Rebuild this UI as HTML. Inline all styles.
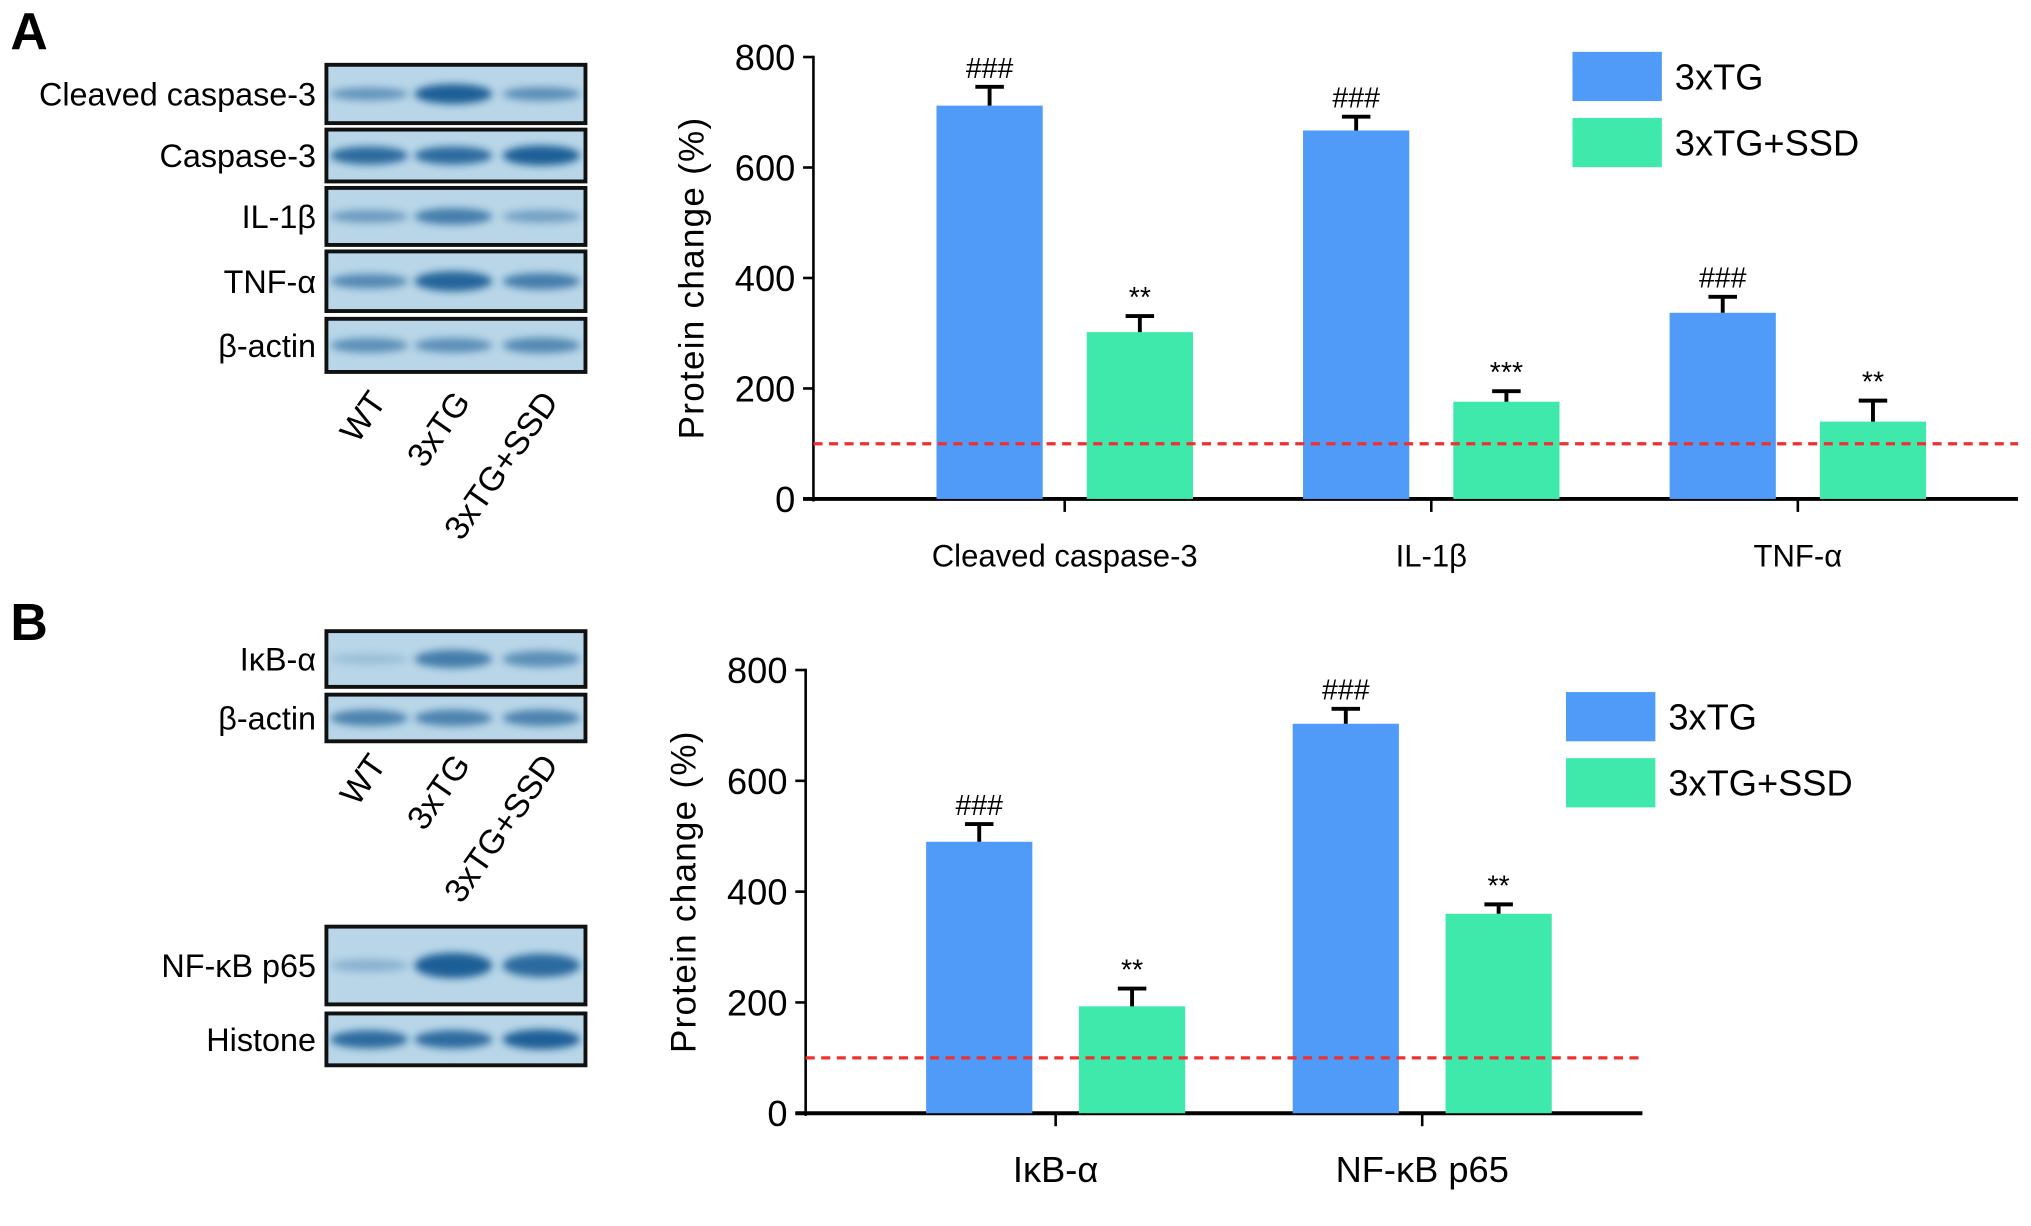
<!DOCTYPE html>
<html><head><meta charset="utf-8"><style>
html,body{margin:0;padding:0;background:#fff;}
svg{display:block;font-family:"Liberation Sans",Arial,sans-serif;}
</style></head><body>
<svg id="fig" width="2031" height="1226" viewBox="0 0 1568 946" preserveAspectRatio="none" xmlns="http://www.w3.org/2000/svg">
<defs><filter id="bl" x="-50%" y="-100%" width="200%" height="300%"><feGaussianBlur stdDeviation="3"/></filter></defs>
<text x="8" y="38" font-size="40" font-weight="bold">A</text>
<text x="8" y="494" font-size="40" font-weight="bold">B</text>
<g id="blots"></g>
<g id="chartA"></g>
<g id="chartB"></g>
</svg>
<script>
// Chart A data
const catsA = ["Cleaved caspase-3", "IL-1β", "TNF-α"];
const tgA = [712, 667, 337];
const tgErrA = [34, 25, 29];
const ssdA = [302, 176, 140];
const ssdErrA = [29, 19, 38];
const tgSigA = ["###", "###", "###"];
const ssdSigA = ["**", "***", "**"];
// Chart B data
const catsB = ["IκB-α", "NF-κB p65"];
const tgB = [490, 703];
const tgErrB = [32, 27];
const ssdB = [193, 360];
const ssdErrB = [32, 17];
const tgSigB = ["###", "###"];
const ssdSigB = ["**", "**"];
const yTicks = [0, 200, 400, 600, 800];
const refLine = 100;

const NS = "http://www.w3.org/2000/svg";
function mk(tag, attrs, parent, text) {
  const e = document.createElementNS(NS, tag);
  for (const k in attrs) e.setAttribute(k, attrs[k]);
  if (text !== undefined) e.textContent = text;
  parent.appendChild(e);
  return e;
}

function drawChart(g, cfg, cats, tg, tgE, ssd, ssdE, tgS, ssdS) {
  const y = v => cfg.y0 - (v / 800) * (cfg.y0 - cfg.y800);
  const xc = i => cfg.c0 + i * cfg.step;
  let e = mk("line", {x1: cfg.ax, y1: cfg.y800 - 1, x2: cfg.ax, y2: cfg.y0 + 2, stroke: "#000", "stroke-width": 2}, g);
  
  
  e = mk("line", {x1: cfg.ax - 8, y1: cfg.y0, x2: cfg.xEnd, y2: cfg.y0, stroke: "#000", "stroke-width": 3}, g);
  
  
  yTicks.forEach(t => {
    let l = mk("line", {x1: cfg.ax - 8, y1: y(t), x2: cfg.ax, y2: y(t), stroke: "#000", "stroke-width": 2}, g);
    
    
    let tx = mk("text", {x: cfg.ax - 14, y: y(t) + 10, "font-size": 28, "text-anchor": "end"}, g, String(t));
    
    
  });
  let yt = mk("text", {x: 0, y: 0, "font-size": 27, "text-anchor": "middle", "letter-spacing": "1", transform: `translate(${cfg.ax - 85},${(cfg.y0 + cfg.y800) / 2}) rotate(-90)`}, g, "Protein change (%)");
  
  
  cats.forEach((c, i) => {
    const cx = xc(i);
    let tk = mk("line", {x1: cx, y1: cfg.y0, x2: cx, y2: cfg.y0 + 10, stroke: "#000", "stroke-width": 2}, g);
    
    
    let lb = mk("text", {x: cx, y: cfg.labY, "font-size": cfg.labFs, "text-anchor": "middle"}, g, c);
    
    
    [[tg, tgE, tgS, -cfg.off, "#4f9bf7", "bar-3xtg"], [ssd, ssdE, ssdS, cfg.off, "#3fe9ac", "bar-3xtg-ssd"]].forEach(s => {
      const v = s[0][i], er = s[1][i], bx = cx + s[3];
      let r = mk("rect", {x: bx - cfg.bw / 2, y: y(v), width: cfg.bw, height: cfg.y0 - y(v), fill: s[4]}, g);
      
      
      let eb = mk("path", {d: `M${bx} ${y(v)} V${y(v + er)} M${bx - 11} ${y(v + er)} H${bx + 11}`, stroke: "#000", "stroke-width": 3, fill: "none"}, g);
      
      
      let sg = mk("text", {x: bx, y: y(v + er) - 7, "font-size": 22, "text-anchor": "middle"}, g, s[2][i]);
      
      
    });
  });
  let rl = mk("line", {x1: cfg.ax, y1: y(refLine), x2: cfg.xEnd, y2: y(refLine), stroke: "#f03030", "stroke-width": 2.5, "stroke-dasharray": "7 5"}, g);
  
  
  [["#4f9bf7", "3xTG", 0], ["#3fe9ac", "3xTG+SSD", 1]].forEach(L => {
    const ly = cfg.legY + L[2] * 51;
    let r = mk("rect", {x: cfg.legX, y: ly, width: 69, height: 38, fill: L[0]}, g);
    
    
    let t = mk("text", {x: cfg.legX + 79, y: ly + 29, "font-size": 28}, g, L[1]);
    
    
  });
}

drawChart(document.getElementById("chartA"), {ax: 628, y0: 385, y800: 44, xEnd: 1558, c0: 822, step: 283, off: 58, bw: 82, labY: 437, labFs: 24, legX: 1214, legY: 40}, catsA, tgA, tgErrA, ssdA, ssdErrA, tgSigA, ssdSigA);
drawChart(document.getElementById("chartB"), {ax: 622, y0: 859, y800: 517, xEnd: 1268, c0: 815, step: 283, off: 59, bw: 82, labY: 912, labFs: 28, legX: 1209, legY: 534}, catsB, tgB, tgErrB, ssdB, ssdErrB, tgSigB, ssdSigB);

// Western blots
const blotG = document.getElementById("blots");
const lanes = [285, 350, 418];
const blots = [
  {label: "Cleaved caspase-3", y1: 50, y2: 95, k: [0.55, 1, 0.6], w: [0.7, 1.1, 0.75]},
  {label: "Caspase-3", y1: 100, y2: 140, k: [0.9, 0.9, 1], w: [1, 1, 1.1]},
  {label: "IL-1β", y1: 145, y2: 189, k: [0.5, 0.75, 0.45], w: [0.7, 0.9, 0.7]},
  {label: "TNF-α", y1: 194, y2: 240, k: [0.65, 0.95, 0.75], w: [0.8, 1.1, 0.9]},
  {label: "β-actin", y1: 246, y2: 287, k: [0.6, 0.6, 0.65], w: [0.8, 0.8, 0.85]},
  {label: "IκB-α", y1: 487, y2: 530, k: [0.2, 0.75, 0.6], w: [0.6, 1, 0.9]},
  {label: "β-actin", y1: 536, y2: 572, k: [0.7, 0.7, 0.7], w: [0.9, 0.9, 0.9]},
  {label: "NF-κB p65", y1: 715, y2: 775, k: [0.3, 1, 0.9], w: [0.7, 1.4, 1.3]},
  {label: "Histone", y1: 782, y2: 822, k: [0.9, 0.9, 1], w: [1, 1, 1.1]}
];
blots.forEach(b => {
  const cy = (b.y1 + b.y2) / 2;
  let r = mk("rect", {x: 252, y: b.y1, width: 200, height: b.y2 - b.y1, fill: "#b9d6e8", stroke: "#111", "stroke-width": 3}, blotG);
  
  
  lanes.forEach((lx, i) => {
    let el = mk("ellipse", {cx: lx, cy: cy, rx: 30, ry: 7 * b.w[i], fill: "#1f5f96", opacity: b.k[i], filter: "url(#bl)"}, blotG);
    
    
  });
  let t = mk("text", {x: 244, y: cy + 9, "font-size": 25, "text-anchor": "end"}, blotG, b.label);
  
  
});
[[310, 342], [590, 835]].forEach(p => {
  ["WT", "3xTG", "3xTG+SSD"].forEach((n, i) => {
    let t = mk("text", {x: 0, y: 0, "font-size": 26, "text-anchor": "end", transform: `translate(${lanes[i] + 14},${p[0]}) rotate(-55)`}, blotG, n);
    
    
  });
});
</script>
</body></html>
